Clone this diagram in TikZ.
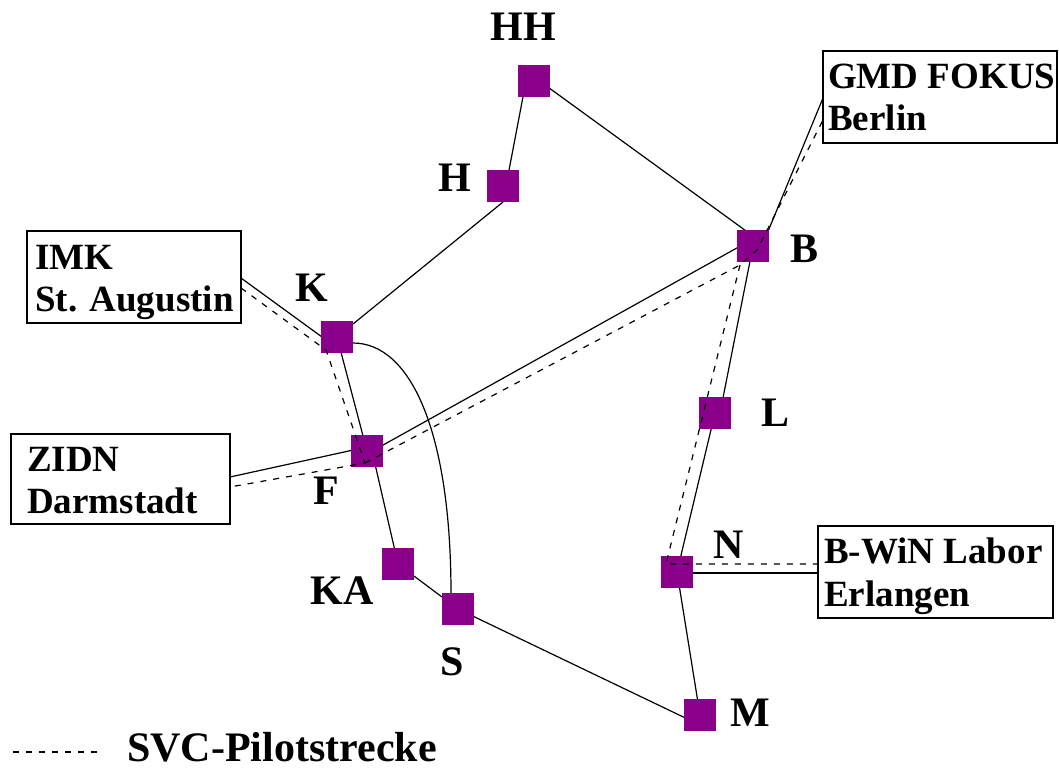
\documentclass[tikz,border=0pt]{standalone}
\usepackage{fontspec}
\setmainfont{Liberation Serif}
\usetikzlibrary{calc}
\definecolor{sq}{RGB}{139,0,139}
\pgfdeclarelayer{bg}
\pgfsetlayers{bg,main}
\begin{document}
\begin{tikzpicture}[x=1pt,y=-1pt,
  sqnode/.style={fill=sq, minimum size=32pt, inner sep=0pt, outer sep=0pt},
  lbl/.style={font=\fontsize{42}{46}\selectfont\bfseries, inner sep=0pt},
  boxnode/.style={draw, line width=1.3pt, anchor=north west, inner sep=0pt, outer sep=0pt},
  boxtxt/.style={font=\fontsize{37}{42}\selectfont\bfseries, anchor=base west, inner sep=0pt},
  link/.style={line width=1.2pt},
  svc/.style={line width=1.2pt, dash pattern=on 6pt off 7pt}]
\useasboundingbox (0,0) rectangle (1059,768);

% boxes
\node[boxnode, minimum width=234pt, minimum height=92pt] (gmd) at (823,51) {};
\node[boxnode, minimum width=214pt, minimum height=92pt] (imk) at (27,231) {};
\node[boxnode, minimum width=219pt, minimum height=90pt] (zidn) at (11,434) {};
\node[boxnode, minimum width=235pt, minimum height=92pt] (erl) at (818,526) {};
\node[boxtxt] (gmdt1) at (828,88) {GMD FOKUS};
\node[boxtxt] (gmdt2) at (828,130) {Berlin};
\node[boxtxt] (imkt1) at (35,269) {IMK};
\node[boxtxt] (imkt2) at (35,311) {St. Augustin};
\node[boxtxt] (zidnt1) at (27,471) {ZIDN};
\node[boxtxt] (zidnt2) at (27,513) {Darmstadt};
\node[boxtxt] (erlt1) at (824,563) {B-WiN Labor};
\node[boxtxt] (erlt2) at (824,606) {Erlangen};

% squares
\node[sqnode] (HH) at (534,81) {};
\node[sqnode] (H) at (503,186) {};
\node[sqnode] (B) at (753,246) {};
\node[sqnode] (K) at (337,337) {};
\node[sqnode] (F) at (367,451) {};
\node[sqnode] (L) at (715,413) {};
\node[sqnode] (KA) at (398,564) {};
\node[sqnode] (S) at (458,609) {};
\node[sqnode] (N) at (677,572) {};
\node[sqnode] (M) at (700,715) {};

% labels
\node[lbl] (tHH) at (523,27) {HH};
\node[lbl] (tH) at (455,178) {H};
\node[lbl] (tB) at (804,249) {B};
\node[lbl] (tK) at (312,288) {K};
\node[lbl] (tL) at (775,413) {L};
\node[lbl] (tF) at (326,491) {F};
\node[lbl] (tKA) at (342,591) {KA};
\node[lbl] (tS) at (452,662) {S};
\node[lbl] (tN) at (729,545) {N};
\node[lbl] (tM) at (750,713) {M};

% solid links (behind squares)
\begin{pgfonlayer}{bg}
\draw[link] ($(HH)+(-8,0)$) -- ($(H)+(3,0)$);
\draw[link] ($(HH)+(0,-4)$) -- ($(B)+(0,-10)$);
\draw[link] (H.south) -- (K);
\draw[link] (K) -- (F);
\draw[link] ($(F)+(5,0)$) -- (KA);
\draw[link] (KA) -- (S);
\draw[link] (S) -- ($(M)+(0,10)$);
\draw[link] (M) -- (N);
\draw[link] (N) -- (L);
\draw[link] ($(L)+(5,0)$) -- (B);
\draw[link] ($(B)+(9,0)$) -- ($(gmd.north west)+(0,47)$);
\draw[link] ($(imk.north east)+(0,47)$) -- ($(K)+(-4,8)$);
\draw[link] ($(zidn.north east)+(0,43)$) -- ($(F)+(0,-4)$);
\draw[link] ($(F)+(0,3)$) -- ($(B)+(0,-7)$);
\draw[link] ($(N)+(0,1)$) -- ($(erl.north west)+(0,47)$);
\draw[link] ($(K)+(16,6)$) .. controls (410,343) and (451,430) .. ($(S)+(-7,-15)$);
\end{pgfonlayer}

% SVC pilot route (dashed, over squares)
\coordinate (Kd) at (326,350);
\coordinate (Fd) at (365,463);
\coordinate (Bd) at (740,265);
\coordinate (Bd2) at (757,250);
\coordinate (Nd) at (666,564);
\draw[svc] ($(imk.north east)+(0,57)$) -- (Kd) -- (Fd) -- ($(zidn.north east)+(0,53)$);
\draw[svc] (Fd) -- (Bd) -- (Bd2) -- ($(gmd.north west)+(0,69)$);
\draw[svc] (Bd) -- (Nd) -- ($(erl.north west)+(0,38)$);

% legend
\coordinate (lg1) at (13,752);
\coordinate (lg2) at (100,752);
\draw[svc] (lg1) -- (lg2);
\node[lbl, anchor=base west] (legend) at (127,761) {SVC-Pilotstrecke};
\end{tikzpicture}
\end{document}
